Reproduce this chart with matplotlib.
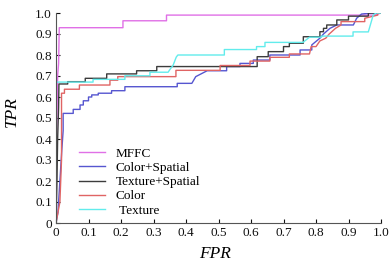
import matplotlib
matplotlib.use("Agg")
import matplotlib.pyplot as plt

# ---- data ----
mffc_fpr = [0, 0, 0.003, 0.005, 0.008, 0.01, 0.206, 0.206, 0.34, 0.34, 0.98, 1.0]
mffc_tpr = [0, 0.3, 0.5, 0.7, 0.76, 0.93, 0.93, 0.963, 0.963, 0.99, 0.99, 1.0]

cs_fpr = [0, 0.006, 0.012, 0.018, 0.022, 0.022, 0.053, 0.053, 0.074, 0.074, 0.084, 0.084,
          0.1, 0.1, 0.11, 0.11, 0.13, 0.13, 0.171, 0.171, 0.212, 0.212, 0.373, 0.373,
          0.418, 0.43, 0.45, 0.465, 0.525, 0.525,
          0.566, 0.566, 0.607, 0.607, 0.658, 0.658, 0.751, 0.751, 0.787, 0.787, 0.812,
          0.823, 0.843, 0.864, 0.915, 0.925, 0.94, 0.971, 1.0]
cs_tpr = [0, 0.05, 0.2, 0.35, 0.44, 0.522, 0.522, 0.541, 0.541, 0.562, 0.562, 0.582,
          0.582, 0.6, 0.6, 0.61, 0.61, 0.618, 0.618, 0.63, 0.63, 0.649, 0.649, 0.665,
          0.665, 0.697, 0.713, 0.725, 0.725, 0.745,
          0.745, 0.76, 0.76, 0.776, 0.776, 0.8, 0.8, 0.824, 0.824, 0.848, 0.88,
          0.9, 0.927, 0.943, 0.943, 0.975, 0.995, 1.0, 1.0]

ts_fpr = [0, 0.003, 0.005, 0.008, 0.009, 0.036, 0.036, 0.09, 0.09, 0.156, 0.156, 0.248,
          0.248, 0.31, 0.31, 0.619, 0.619, 0.653, 0.653, 0.700, 0.700, 0.718, 0.718, 0.761,
          0.761, 0.812, 0.812, 0.823, 0.823, 0.833, 0.833, 0.864, 0.864, 0.9, 0.9, 0.961,
          0.961, 1.0]
ts_tpr = [0, 0.2, 0.4, 0.55, 0.662, 0.662, 0.673, 0.673, 0.689, 0.689, 0.71, 0.71,
          0.725, 0.725, 0.745, 0.745, 0.792, 0.792, 0.816, 0.816, 0.84, 0.84, 0.856, 0.856,
          0.887, 0.887, 0.911, 0.911, 0.927, 0.927, 0.943, 0.943, 0.967, 0.967, 0.985, 0.985,
          1.0, 1.0]

c_fpr = [0, 0.012, 0.017, 0.017, 0.026, 0.026, 0.072, 0.072, 0.166, 0.166, 0.19, 0.19,
         0.369, 0.369, 0.505, 0.505, 0.597, 0.597, 0.658, 0.658, 0.718, 0.718, 0.78, 0.785,
         0.80, 0.812, 0.83, 0.84, 0.86, 0.877, 0.877, 0.95, 0.95, 0.99, 0.99, 1.0]
c_tpr = [0, 0.1, 0.3, 0.618, 0.618, 0.637, 0.637, 0.657, 0.657, 0.68, 0.68, 0.697,
         0.697, 0.727, 0.727, 0.75, 0.75, 0.771, 0.771, 0.789, 0.789, 0.805, 0.805, 0.84,
         0.84, 0.867, 0.88, 0.899, 0.927, 0.943, 0.959, 0.959, 0.975, 0.99, 1.0, 1.0]

t_fpr = [0, 0, 0.114, 0.114, 0.212, 0.212, 0.289, 0.289, 0.345, 0.35, 0.36, 0.365, 0.37,
         0.375, 0.518, 0.518, 0.617, 0.617, 0.643, 0.643, 0.76, 0.78, 0.817, 0.817, 0.914,
         0.914, 0.961, 0.976, 0.985, 1.0]
t_tpr = [0, 0.671, 0.671, 0.684, 0.684, 0.701, 0.701, 0.718, 0.718, 0.73, 0.75, 0.77, 0.79,
         0.80, 0.80, 0.826, 0.826, 0.84, 0.84, 0.86, 0.86, 0.885, 0.885, 0.89, 0.89,
         0.91, 0.91, 0.99, 1.0, 1.0]

labels = ["MFFC", "Color+Spatial", "Texture+Spatial", "Color", " Texture"]
colors = ["#e070e6", "#5656d0", "#3c3c3c", "#e06464", "#62ecec"]

plt.rcParams['font.family'] = ['Liberation Serif', 'DejaVu Serif']

fig = plt.figure(figsize=(3.92, 2.61), dpi=100)
ax = fig.add_axes([56/392, 1-223/261, 325/392, 210/261])

series = [(mffc_fpr, mffc_tpr), (cs_fpr, cs_tpr), (ts_fpr, ts_tpr), (c_fpr, c_tpr), (t_fpr, t_tpr)]
for (x, y), lab, col in zip(series, labels, colors):
    ax.plot(x, y, color=col, lw=1.0, label=lab)

ax.set_xlim(0, 1)
ax.set_ylim(0, 1)
ticks = [0, 0.1, 0.2, 0.3, 0.4, 0.5, 0.6, 0.7, 0.8, 0.9, 1.0]
ticklabels = ["0", "0.1", "0.2", "0.3", "0.4", "0.5", "0.6", "0.7", "0.8", "0.9", "1.0"]
ax.set_xticks(ticks)
ax.set_xticklabels(ticklabels)
ax.set_yticks(ticks)
ax.set_yticklabels(ticklabels)
ax.tick_params(direction='in', length=3, width=0.8, labelsize=9.5, colors='#111111', pad=3)
for s in ['top', 'right']:
    ax.spines[s].set_visible(False)
for s in ['left', 'bottom']:
    ax.spines[s].set_color('#555555')
    ax.spines[s].set_linewidth(0.8)

ax.set_xlabel("FPR", fontsize=12.5, style='italic')
ax.set_ylabel("TPR", fontsize=12.5, style='italic')
ax.xaxis.set_label_coords(0.49, -0.11)
ax.yaxis.set_label_coords(-0.11, 0.53)

ax.legend(loc='lower left', bbox_to_anchor=(0.07, 0.03), frameon=False, fontsize=9.5,
          handlelength=2.0, handletextpad=0.8, labelspacing=0.15, borderpad=0.0,
          borderaxespad=0.0)

fig.savefig("out.png", dpi=100)
